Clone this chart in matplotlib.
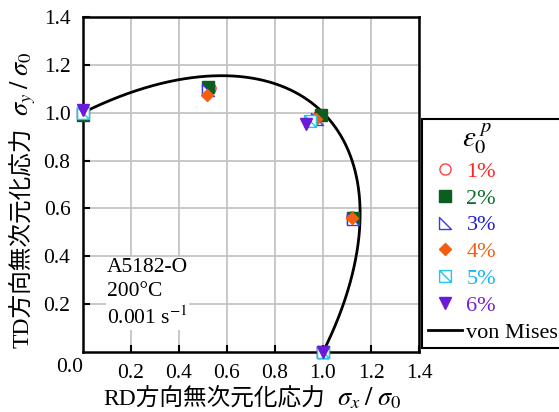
import numpy as np
import matplotlib
matplotlib.use("Agg")
import matplotlib.pyplot as plt
from matplotlib.path import Path

plt.rcParams['font.family'] = ['Liberation Serif', 'Noto Sans CJK JP']
plt.rcParams['mathtext.fontset'] = 'stix'

labels = ['1%', '2%', '3%', '4%', '5%', '6%']
colors = ['#ff4040', '#0b5e1e', '#3a3ae0', '#f06010', '#20c8f0', '#6a1ad8']
text_colors = ['#ff2020', '#0b6e2a', '#2020d0', '#f06010', '#10b8f0', '#7020d0']

x1 = [1.0, 1.12, 0.985, 0.53, 0.0]
y1 = [0.0, 0.565, 0.99, 1.105, 1.0]
x2 = [1.0, 1.125, 0.99, 0.52, 0.0]
y2 = [0.0, 0.56, 0.99, 1.106, 0.99]
x3 = [1.0, 1.125, 0.975, 0.52, 0.0]
y3 = [0.0, 0.555, 0.975, 1.095, 1.0]
x4 = [1.0, 1.12, 0.97, 0.517, 0.0]
y4 = [0.0, 0.56, 0.975, 1.073, 1.0]
x5 = [1.0, 0.945, 0.0]
y5 = [0.0, 0.965, 1.0]
x6 = [1.0, 0.93, 0.0]
y6 = [0.0, 0.951, 1.013]

xs = [x1, x2, x3, x4, x5, x6]
ys = [y1, y2, y3, y4, y5, y6]

tick_vals = [0.2, 0.4, 0.6, 0.8, 1.0, 1.2, 1.4]
tick_labels = ['0.2', '0.4', '0.6', '0.8', '1.0', '1.2', '1.4']

# custom markers
tri_path = Path([(-1, 1), (-1, -1), (1, -1), (-1, 1)],
                [Path.MOVETO, Path.LINETO, Path.LINETO, Path.CLOSEPOLY])
sq_diag = Path([(-1, -1), (1, -1), (1, 1), (-1, 1), (-1, -1), (-1, 1), (1, -1)],
               [Path.MOVETO, Path.LINETO, Path.LINETO, Path.LINETO, Path.CLOSEPOLY,
                Path.MOVETO, Path.LINETO])
markers = ['o', 's', tri_path, 'D', sq_diag, 'v']
faces = ['none', colors[1], 'white', colors[3], 'white', colors[5]]
sizes = [8, 8.5, 8, 6.5, 8.5, 8.5]

W, H = 559, 412
fig = plt.figure(figsize=(W/100, H/100), dpi=100)
ax = fig.add_axes([83/W, 1-352/H, (419-83)/W, (352-17)/H])

# von Mises yield locus: sx^2 - sx*sy + sy^2 = 1 (first quadrant part)
theta = np.linspace(0, 2*np.pi, 3000)
a = np.sqrt(2.0)
b = np.sqrt(2.0/3.0)
px = (a*np.cos(theta) - b*np.sin(theta))/np.sqrt(2)
py = (a*np.cos(theta) + b*np.sin(theta))/np.sqrt(2)
mask = (px >= -1e-6) & (py >= -1e-6)
order = np.argsort(np.arctan2(py[mask], px[mask]))
vm_line, = ax.plot(px[mask][order], py[mask][order], color='black', lw=2.0,
                   zorder=3, label='von Mises')

handles = []
for i in range(6):
    h, = ax.plot(xs[i], ys[i], linestyle='none', marker=markers[i],
                 markersize=sizes[i], markerfacecolor=faces[i],
                 markeredgecolor=colors[i], markeredgewidth=1.0,
                 zorder=4 + i, clip_on=False, label=labels[i])
    handles.append(h)
handles.append(vm_line)

ax.set_xlim(0, 1.4)
ax.set_ylim(0, 1.4)
ax.set_xticks(tick_vals)
ax.set_yticks(tick_vals)
ax.set_xticklabels(tick_labels)
ax.set_yticklabels(tick_labels)
ax.tick_params(direction='in', length=5, width=1.5, labelsize=15.5, pad=9,
               top=False, right=False)
ax.grid(True, color='#c4c4c4', lw=1.3)
ax.set_axisbelow(True)
for s in ax.spines.values():
    s.set_linewidth(1.8)

fig.text(70/W, 1-368/H, '0.0', fontsize=15.5, ha='center', va='center')

ax.text(0.1, 0.245, 'A5182-O\n200°C\n0.001 s$^{-1}$', fontsize=15.5,
        ha='left', va='center', linespacing=1.33,
        bbox=dict(facecolor='white', edgecolor='none', pad=1), zorder=2)

leg = fig.legend(handles=handles, labels=labels + ['von Mises'],
                 loc='upper left', bbox_to_anchor=(422/W, 1-119/H),
                 fontsize=16, frameon=True, fancybox=False, edgecolor='black',
                 framealpha=1, handlelength=1.55, handletextpad=0.2,
                 labelspacing=0.28, borderpad=0.25, borderaxespad=0,
                 title=' ', title_fontsize=24)
leg.get_frame().set_linewidth(1.5)
for txt, c in zip(leg.get_texts(), text_colors + ['black']):
    txt.set_color(c)
fig.text(477/W, 1-139/H, r'$\varepsilon_0^{\;p}$', fontsize=21,
         ha='center', va='center', zorder=20)

# axis labels: CJK part + math part, placed on a shared baseline
fig.canvas.draw()
renderer = fig.canvas.get_renderer()

cjk_fs = 17
math_fs = 19
gap = 4
xb = 103/W
yb = 1-405/H
t1 = fig.text(xb, yb, 'RD方向無次元化応力', fontsize=cjk_fs,
              ha='left', va='baseline')
bb = t1.get_window_extent(renderer)
fig.text((bb.x1 + gap + 8)/W, yb, r'$\sigma_x\;/\;\sigma_0$', fontsize=math_fs,
         ha='left', va='baseline')

xb2 = 28/W
yb2 = 1-348/H
t2 = fig.text(xb2, yb2, 'TD方向無次元化応力', fontsize=cjk_fs, rotation=90,
              rotation_mode='anchor', ha='left', va='baseline')
bb2 = t2.get_window_extent(renderer)
fig.text(xb2, 1 - (H - bb2.y1 - gap - 8)/H, r'$\sigma_y\;/\;\sigma_0$', fontsize=math_fs,
         rotation=90, rotation_mode='anchor', ha='left', va='baseline')

fig.savefig('out.png', dpi=100)
